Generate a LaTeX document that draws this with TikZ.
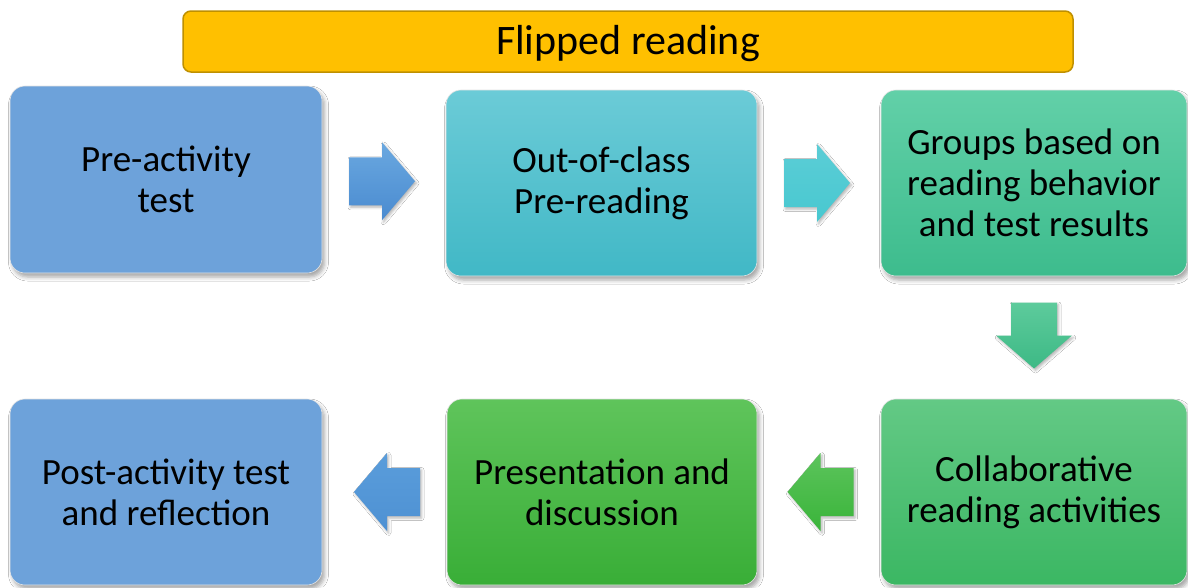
\documentclass[tikz,border=0pt]{standalone}
\usepackage{fontspec}
\setmainfont{Carlito}
\usetikzlibrary{calc,shadows.blur}

% box colours
\definecolor{titlefill}{HTML}{FFC000}
\definecolor{titleline}{HTML}{BF9000}
\definecolor{bluebox}{HTML}{6DA2DA}
\definecolor{tealtop}{HTML}{6BCBD7}
\definecolor{tealbot}{HTML}{41B8C6}
\definecolor{minttop}{HTML}{62D0A8}
\definecolor{mintbot}{HTML}{3DBC8D}
\definecolor{greentop}{HTML}{63C985}
\definecolor{greenbot}{HTML}{3BB763}
\definecolor{leaftop}{HTML}{5FC45B}
\definecolor{leafbot}{HTML}{39AE37}
% arrow colours
\definecolor{arrbluetop}{HTML}{6AA8E0}
\definecolor{arrbluebot}{HTML}{4A8BD0}
\definecolor{arrtealtop}{HTML}{5BCDD6}
\definecolor{arrtealbot}{HTML}{48C8D0}
\definecolor{arrminttop}{HTML}{5DCB9C}
\definecolor{arrmintbot}{HTML}{3DB985}
\definecolor{arrgreentop}{HTML}{5CC45C}
\definecolor{arrgreenbot}{HTML}{3AB43A}
\definecolor{arrbacktop}{HTML}{5A9DDB}
\definecolor{arrbackbot}{HTML}{4E91D3}

\tikzset{
  softshadow/.style={blur shadow={shadow xshift=2.5pt, shadow yshift=-4pt,
      shadow blur radius=4pt, shadow opacity=35}},
  stage/.style={rectangle, rounded corners=15pt, align=center,
      minimum width=310pt, minimum height=186pt, inner sep=0pt,
      font=\fontsize{37}{41}\selectfont, text=black,
      draw=black!10, line width=0.6pt, softshadow},
  banner/.style={rectangle, rounded corners=8pt, fill=titlefill,
      draw=titleline, line width=1.5pt, minimum width=890pt,
      minimum height=61pt, inner sep=0pt, text height=30pt, text depth=5pt,
      font=\fontsize{42}{47}\selectfont, text=black},
  flowarrow/.style={blur shadow={shadow xshift=1.5pt, shadow yshift=-2pt,
      shadow blur radius=2.5pt, shadow opacity=30}},
}

% block arrows centred on a named coordinate
\newcommand\arrowright[2]{%
  \path[flowarrow,#2,shift={(#1)}] (-33,-24) -- (0,-24) -- (0,-39) -- (33,0)
    -- (0,39) -- (0,24) -- (-33,24) -- cycle;}
\newcommand\arrowleft[2]{%
  \path[flowarrow,#2,shift={(#1)}] (33,-24) -- (0,-24) -- (0,-39) -- (-33,0)
    -- (0,39) -- (0,24) -- (33,24) -- cycle;}
\newcommand\arrowdown[2]{%
  \path[flowarrow,#2,shift={(#1)}] (-23,-33) -- (23,-33) -- (23,0) -- (38,0)
    -- (0,33) -- (-38,0) -- (-23,0) -- cycle;}

\begin{document}
\begin{tikzpicture}[x=1pt,y=-1pt]
  \useasboundingbox[fill=white] (0,0) rectangle (1188,587);

  \node[banner] (title) at (628,41.5) {Flipped reading};

  \node[stage, fill=bluebox, minimum width=312pt, minimum height=187pt]
    (pretest) at (166,179.5) {Pre-activity\\test};
  \node[stage, top color=tealtop, bottom color=tealbot, minimum width=311pt]
    (preread) at (601.5,183) {Out-of-class\\Pre-reading};
  \node[stage, top color=minttop, bottom color=mintbot, minimum width=306pt]
    (groups) at (1034,183) {Groups based on\\reading behavior\\and test results};
  \node[stage, top color=greentop, bottom color=greenbot, minimum width=306pt]
    (collab) at (1034,492) {Collaborative\\reading activities};
  \node[stage, top color=leaftop, bottom color=leafbot]
    (present) at (602,492) {Presentation and\\discussion};
  \node[stage, fill=bluebox, minimum width=312pt]
    (posttest) at (166,492) {Post-activity test\\and reflection};

  \coordinate (m12) at ($(pretest.east)!0.5!(preread.west)+(-2,0)$);
  \coordinate (m23) at ($(preread.east)!0.5!(groups.west)+(-2,0)$);
  \coordinate (m34) at ($(groups.south)!0.5!(collab.north)+(0,-2)$);
  \coordinate (m45) at ($(collab.west)!0.5!(present.east)+(1.5,0)$);
  \coordinate (m56) at ($(present.west)!0.5!(posttest.east)+(2.5,0)$);

  \arrowright{m12}{top color=arrbluetop, bottom color=arrbluebot}
  \arrowright{m23}{top color=arrtealtop, bottom color=arrtealbot}
  \arrowdown{m34}{top color=arrminttop, bottom color=arrmintbot}
  \arrowleft{m45}{top color=arrgreentop, bottom color=arrgreenbot}
  \arrowleft{m56}{top color=arrbacktop, bottom color=arrbackbot}
\end{tikzpicture}
\end{document}
